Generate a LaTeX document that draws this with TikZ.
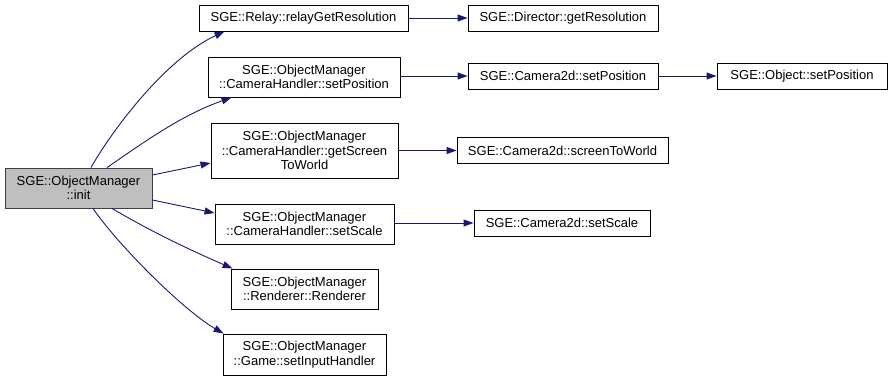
\documentclass[tikz,border=0pt]{standalone}
\usepackage{fontspec}
\setmainfont{Liberation Sans}
\usetikzlibrary{arrows.meta}
\definecolor{edgeblue}{HTML}{191970}
\definecolor{rootfill}{HTML}{BFBFBF}
\definecolor{rootline}{HTML}{404040}
\tikzset{
  fn/.style={draw=black, fill=white, line width=0.9pt, inner sep=0pt,
    align=center, font=\fontsize{13}{14.5}\selectfont},
  rootfn/.style={fn, draw=rootline, fill=rootfill},
  call/.style={draw=edgeblue, line width=0.9pt,
    -{Triangle[length=10pt,width=7pt]}},
}
\begin{document}
\begin{tikzpicture}[x=1pt,y=-1pt]
\useasboundingbox (0,0) rectangle (892,381);

% caller
\node[rootfn, minimum width=147pt, minimum height=40pt] (init) at (78.5,188)
  {SGE::ObjectManager\\::init};

% first-level callees
\node[fn, minimum width=209pt, minimum height=26pt] (relay) at (303.5,18)
  {SGE::Relay::relayGetResolution};
\node[fn, minimum width=192pt, minimum height=40pt] (chpos) at (304,77)
  {SGE::ObjectManager\\::CameraHandler::setPosition};
\node[fn, minimum width=187pt, minimum height=55pt] (chscreen) at (304.5,150.5)
  {SGE::ObjectManager\\::CameraHandler::getScreen\\ToWorld};
\node[fn, minimum width=179pt, minimum height=40pt] (chscale) at (304.5,224)
  {SGE::ObjectManager\\::CameraHandler::setScale};
\node[fn, minimum width=147pt, minimum height=40pt] (renderer) at (304.5,289)
  {SGE::ObjectManager\\::Renderer::Renderer};
\node[fn, minimum width=163pt, minimum height=41pt] (game) at (304.5,354.5)
  {SGE::ObjectManager\\::Game::setInputHandler};

% second-level callees
\node[fn, minimum width=190pt, minimum height=26pt] (director) at (563,18)
  {SGE::Director::getResolution};
\node[fn, minimum width=190pt, minimum height=26pt] (campos) at (563,76)
  {SGE::Camera2d::setPosition};
\node[fn, minimum width=211pt, minimum height=26pt] (camscreen) at (562.5,150.5)
  {SGE::Camera2d::screenToWorld};
\node[fn, minimum width=176pt, minimum height=26pt] (camscale) at (562,223)
  {SGE::Camera2d::setScale};

% third level
\node[fn, minimum width=170pt, minimum height=26pt] (objpos) at (802,76)
  {SGE::Object::setPosition};

% calls from init
\draw[call] ([xshift=12.5pt]init.north) .. controls (111,132) and (165,59)
  .. ([xshift=26pt]relay.south west);
\draw[call] ([xshift=28.5pt]init.north) .. controls (147,140) and (182,115)
  .. ([xshift=24pt]chpos.south west);
\draw[call] ([yshift=13pt]init.east) -- ([yshift=-12.5pt]chscreen.west);
\draw[call] ([yshift=-12pt]init.east) -- ([yshift=11pt]chscale.west);
\draw[call] ([xshift=33.5pt]init.south) .. controls (152,232) and (188,249)
  .. ([xshift=2pt]renderer.north west);
\draw[call] ([xshift=14.5pt]init.south) .. controls (118,245) and (183,310)
  .. ([xshift=1pt]game.north west);

% further calls
\draw[call] (relay.east) -- (director.west);
\draw[call] (chpos.east |- campos.west) -- (campos.west);
\draw[call] (campos.east) -- (objpos.west);
\draw[call] (chscreen.east) -- (camscreen.west);
\draw[call] (chscale.east |- camscale.west) -- (camscale.west);
\end{tikzpicture}
\end{document}
